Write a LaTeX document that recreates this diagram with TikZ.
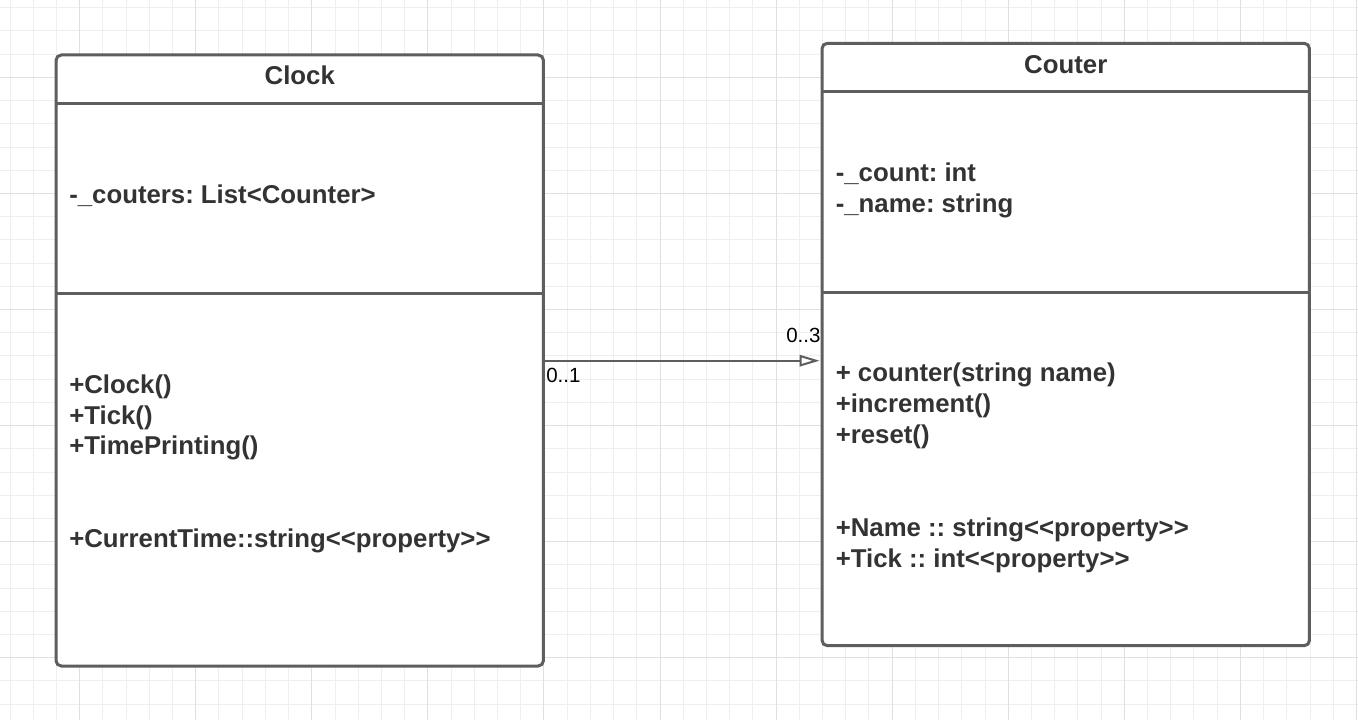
\documentclass[tikz,border=0pt]{standalone}
\usepackage{fontspec}
\setmainfont{Liberation Sans}
\usetikzlibrary{arrows.meta}
\frenchspacing
\definecolor{gridminor}{HTML}{EFEFEF}
\definecolor{gridmajor}{HTML}{E0E0E0}
\definecolor{boxline}{HTML}{5E5E5E}
\definecolor{txt}{HTML}{333333}
\tikzset{
  minorgrid/.style={draw=gridminor, line width=0.75pt},
  majorgrid/.style={draw=gridmajor, line width=0.75pt},
  classbox/.style={draw=boxline, fill=white, line width=2.25pt, rounded corners=4pt,
    rectangle, inner sep=0pt, outer sep=0pt, anchor=north west},
  divider/.style={draw=boxline, line width=2.25pt},
  member/.style={anchor=base west, inner sep=0pt, text=txt,
    font=\fontsize{19.33pt}{23.25pt}\selectfont\bfseries\frenchspacing},
  title/.style={anchor=base, inner sep=0pt, text=txt,
    font=\fontsize{19.33pt}{23.25pt}\selectfont\bfseries},
  mult/.style={anchor=base west, inner sep=0pt, text=black,
    font=\fontsize{15.4pt}{18pt}\selectfont},
  assoc/.style={draw=boxline, line width=1.5pt,
    -{Triangle[open, length=15pt, width=8.5pt, fill=white]}, shorten >=1.8pt}
}
\begin{document}
\begin{tikzpicture}[x=0.75pt, y=-0.75pt]
\useasboundingbox (0,0) rectangle (1358,720);
\fill[white] (0,0) rectangle (1358,720);
% grid (snapped to pixel centres)
\foreach \i in {-3,...,55} {
  \pgfmathsetmacro{\gx}{floor(79.7+23.214*\i)+0.5}
  \draw[minorgrid] (\gx,0) -- (\gx,720);
}
\foreach \i in {-3,...,27} {
  \pgfmathsetmacro{\gy}{floor(77.4+23.214*\i)+0.5}
  \draw[minorgrid] (0,\gy) -- (1358,\gy);
}
\foreach \i in {0,...,11} {
  \pgfmathsetmacro{\gx}{floor(79.7+116.07*\i)+0.5}
  \draw[majorgrid] (\gx,0) -- (\gx,720);
}
\foreach \i in {0,...,5} {
  \pgfmathsetmacro{\gy}{floor(77.4+116.07*\i)+0.5}
  \draw[majorgrid] (0,\gy) -- (1358,\gy);
}

% Clock class
\node[classbox, minimum width=365.6pt, minimum height=458.25pt] (clock) at (56,55) {};
\draw[divider] (clock.west |- 0,104) -- (clock.east |- 0,104);
\draw[divider] (clock.west |- 0,293) -- (clock.east |- 0,293);
\node[title] (clocktitle) at (299.75,85) {Clock};
\node[member] (ca1) at (69,204) {-\_couters: List<Counter>};
\node[member] (cm1) at (69,393.3) {+Clock()};
\node[member] (cm2) at (69,424.1) {+Tick()};
\node[member] (cm3) at (69,454.9) {+TimePrinting()};
\node[member] (cm4) at (69,547.3) {+CurrentTime::string<{}<property>{}>};

% Couter class
\node[classbox, minimum width=365.6pt, minimum height=451.8pt] (couter) at (822,43.3) {};
\draw[divider] (couter.west |- 0,91.7) -- (couter.east |- 0,91.7);
\draw[divider] (couter.west |- 0,292) -- (couter.east |- 0,292);
\node[title] (coutertitle) at (1065.75,73.3) {Couter};
\node[member] (ka1) at (835.5,181.7) {-\_count: int};
\node[member] (ka2) at (835.5,212.5) {-\_name: string};
\node[member] (km1) at (835.5,381.7) {+ counter(string name)};
\node[member] (km2) at (835.5,412.8) {+increment()};
\node[member] (km3) at (835.5,443.9) {+reset()};
\node[member] (km4) at (835.5,536.7) {+Name :: string<{}<property>{}>};
\node[member] (km5) at (835.5,567.3) {+Tick :: int<{}<property>{}>};

% association
\draw[assoc] (clock.east |- 0,360.7) -- (couter.west |- 0,360.7);
\node[mult] (m1) at (546,382.5) {0..1};
\node[mult] (m2) at (786,342.5) {0..3};
\end{tikzpicture}
\end{document}
